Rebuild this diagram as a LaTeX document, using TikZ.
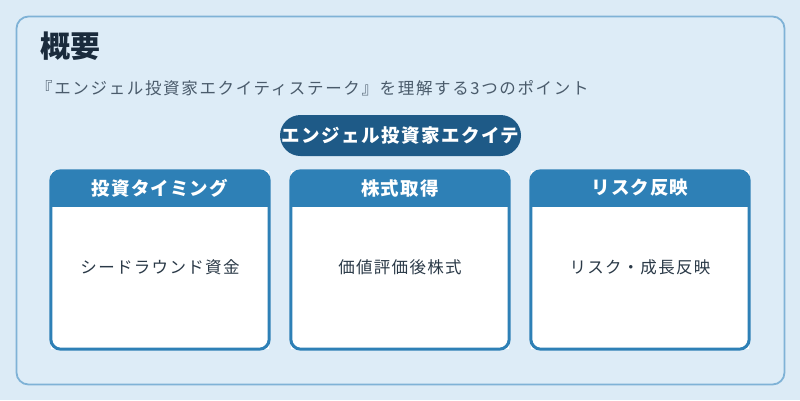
\documentclass[tikz,border=0pt]{standalone}
\usepackage{fontspec}
\setmainfont{Noto Sans CJK JP}
\newfontfamily\jpls[LetterSpace=6]{Noto Sans CJK JP}
\newfontfamily\jplsb[LetterSpace=8]{Noto Sans CJK JP}
\newfontfamily\jplsc[LetterSpace=10]{Noto Sans CJK JP}
\definecolor{bgc}{HTML}{DCEBF6}
\definecolor{panelc}{HTML}{DDECF7}
\definecolor{panelb}{HTML}{7FB2D6}
\definecolor{titlec}{HTML}{1A2B3C}
\definecolor{subc}{HTML}{4A5B6B}
\definecolor{pillc}{HTML}{1E5A87}
\definecolor{hdrc}{HTML}{2E80B6}
\definecolor{bodyc}{HTML}{2A3947}
\tikzset{
  panel/.style={draw=panelb, fill=panelc, line width=1.8pt, rounded corners=12pt, minimum width=768pt, minimum height=368pt, inner sep=0pt},
  pill/.style={fill=pillc, rounded corners=20.5pt, minimum width=241pt, minimum height=41pt, inner sep=0pt, text=white, font=\jplsb\bfseries\fontsize{18.5}{20}\selectfont},
  card/.style={fill=white, minimum width=218pt, minimum height=178pt, inner sep=0pt},
  cardborder/.style={draw=hdrc, line width=3pt, rounded corners=10pt},
  hdrtext/.style={text=white, font=\jpls\bfseries\fontsize{18.5}{20}\selectfont},
  bodytext/.style={text=bodyc, font=\jplsb\fontsize{16.5}{19}\selectfont},
}
\begin{document}
\begin{tikzpicture}[x=1pt,y=-1pt]
\useasboundingbox[fill=bgc] (0,0) rectangle (800,400);
\node[panel] (panel) at (400.5,200.5) {};
\node[anchor=west, text=titlec, font=\bfseries\fontsize{30}{34}\selectfont, inner sep=0pt] (title) at (40,46) {概要};
\node[anchor=west, text=subc, font=\jplsc\fontsize{16.5}{19}\selectfont, inner sep=0pt] (sub) at (36,88) {『エンジェル投資家エクイティステーク』を理解する3つのポイント};
\node[pill] (pill) at (400.5,135.5) {エンジェル投資家エクイテ};
\foreach \i/\cx/\h/\b in {1/160/投資タイミング/シードラウンド資金, 2/400/株式取得/価値評価後株式, 3/640/リスク反映/リスク・成長反映}{
  \node[card] (c\i) at (\cx,260) {};
  \begin{scope}
    \clip[rounded corners=10pt] (c\i.north west) rectangle (c\i.south east);
    \fill[hdrc] (c\i.north west) rectangle ([yshift=-36pt]c\i.north east);
  \end{scope}
  \draw[cardborder] (c\i.north west) rectangle (c\i.south east);
  \node[hdrtext] (h\i) at (\cx,188) {\h};
  \node[bodytext] (b\i) at (\cx,267) {\b};
}
\end{tikzpicture}
\end{document}
